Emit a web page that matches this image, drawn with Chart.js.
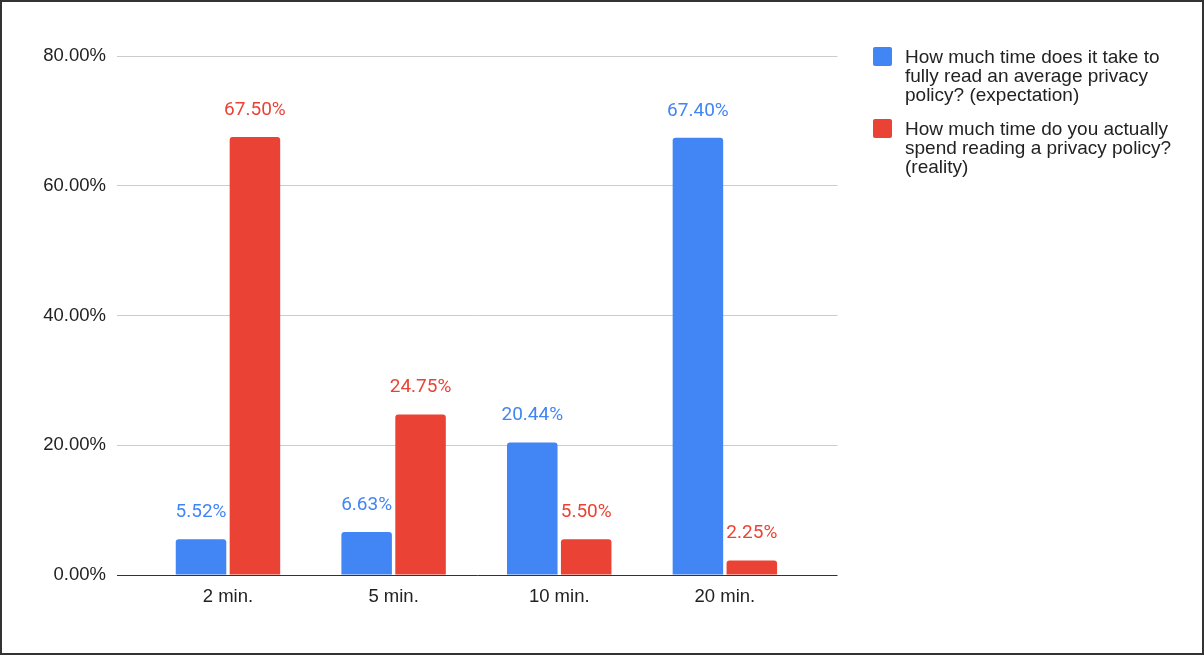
<!DOCTYPE html>
<html>
<head>
<meta charset="utf-8">
<title>Privacy policy reading time</title>
<script src="https://cdn.jsdelivr.net/npm/chart.js@4.4.1/dist/chart.umd.min.js"></script>
<style>
  html, body { margin: 0; padding: 0; background: #fff; }
  .frame { position: relative; width: 1204px; height: 655px; overflow: hidden; background: #fff; }
  .frame canvas { position: absolute; left: 0; top: 0; }
  .frame .edge { position: absolute; left: 0; top: 0; right: 0; bottom: 0; border: 2px solid #333; pointer-events: none; }
  .legend { position: absolute; left: 873px; top: 47px; font: 19px/19px "Liberation Sans", Arial, sans-serif; color: #222; }
  .legend .item { display: flex; align-items: flex-start; margin-bottom: 15px; }
  .legend .swatch { width: 19px; height: 19px; border-radius: 2px; margin-right: 13px; flex: none; }
</style>
</head>
<body>
<div class="frame">
  <canvas id="chart" width="1204" height="655"></canvas>
  <div class="legend" id="legend"></div>
  <div class="edge"></div>
</div>
<script>
  // time buckets on the x axis
  const categories = ["2 min.", "5 min.", "10 min.", "20 min."];

  // share of answers, in percent
  const expectation = [5.52, 6.63, 20.44, 67.40];
  const reality = [67.50, 24.75, 5.50, 2.25];

  const yTicks = [0, 20, 40, 60, 80];

  const expectationName = ["How much time does it take to", "fully read an average privacy", "policy? (expectation)"];
  const realityName = ["How much time do you actually", "spend reading a privacy policy?", "(reality)"];

  const BLUE = "#4285F4";
  const RED = "#EA4335";
  const AXIS_FONT = { family: "'Liberation Sans', Arial, sans-serif", size: 18.5 };

  const toPoints = (vals) => vals.map((y, i) => ({ x: i, y }));

  // value printed above every bar
  const valueLabels = {
    id: "valueLabels",
    afterDatasetsDraw(chart) {
      const { ctx } = chart;
      ctx.save();
      ctx.font = "19px Roboto, 'Noto Sans', sans-serif";
      ctx.textAlign = "center";
      ctx.textBaseline = "alphabetic";
      chart.data.datasets.forEach((ds, di) => {
        ctx.fillStyle = ds.backgroundColor;
        chart.getDatasetMeta(di).data.forEach((bar, i) => {
          ctx.fillText(ds.data[i].y.toFixed(2) + "%", bar.x, bar.y - 22);
        });
      });
      ctx.restore();
    },
  };

  const datasets = [
    { label: expectationName.join(" "), data: toPoints(expectation), backgroundColor: BLUE },
    { label: realityName.join(" "), data: toPoints(reality), backgroundColor: RED },
  ];

  new Chart(document.getElementById("chart"), {
    type: "bar",
    data: { datasets },
    options: {
      responsive: false,
      animation: false,
      layout: { padding: { left: 0, top: 56, right: 366.5, bottom: 0 } },
      datasets: {
        bar: {
          categoryPercentage: 0.651,
          barPercentage: 0.937,
          borderRadius: 3,
          borderSkipped: "start",
        },
      },
      scales: {
        x: {
          type: "linear",
          offset: false,
          min: -0.67,
          max: 3.68,
          afterBuildTicks: (s) => { s.ticks = categories.map((_, i) => ({ value: i })); },
          afterFit: (s) => { s.height = 80; },
          grid: { display: false },
          border: { display: false },
          ticks: {
            autoSkip: false,
            maxRotation: 0,
            padding: 3,
            color: "#222",
            font: AXIS_FONT,
            callback: (v) => categories[v],
          },
        },
        y: {
          min: 0,
          max: 80,
          afterBuildTicks: (s) => { s.ticks = yTicks.map((v) => ({ value: v })); },
          afterFit: (s) => { s.width = 117; },
          grid: {
            drawTicks: false,
            color: (c) => (c.tick && c.tick.value === 0 ? "#333" : "#ccc"),
          },
          border: { display: false },
          ticks: {
            padding: 11,
            color: "#222",
            font: AXIS_FONT,
            callback: (v) => v.toFixed(2) + "%",
          },
        },
      },
      plugins: {
        legend: { display: false },
        tooltip: { enabled: false },
      },
    },
    plugins: [valueLabels],
  });

  // legend on the right, one entry per series
  const legend = document.getElementById("legend");
  [[BLUE, expectationName], [RED, realityName]].forEach(([color, lines]) => {
    const item = document.createElement("div");
    item.className = "item";
    const swatch = document.createElement("span");
    swatch.className = "swatch";
    swatch.style.background = color;
    const text = document.createElement("span");
    text.innerHTML = lines.join("<br>");
    item.append(swatch, text);
    legend.append(item);
  });
</script>
</body>
</html>
